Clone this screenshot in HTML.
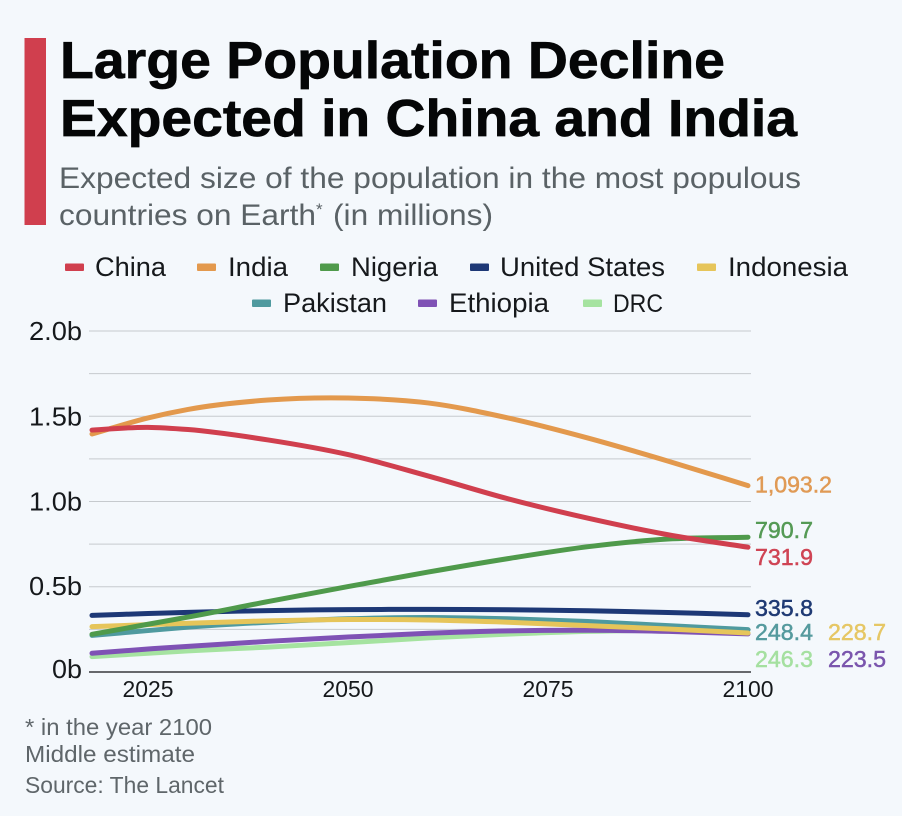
<!DOCTYPE html>
<html lang="en">
<head>
<meta charset="utf-8">
<title>Large Population Decline Expected in China and India</title>
<style>
html,body{margin:0;padding:0;background:#f4f8fc;}
svg{display:block;font-family:"Liberation Sans",sans-serif;}
.sub{font-size:30px;fill:#5a6266;}
.leg{font-size:27px;fill:#16191c;}
.foot{font-size:23px;fill:#5f666a;}
.tick{fill:#16191c;}
</style>
</head>
<body>
<svg id="chart" width="902" height="816" viewBox="0 0 902 816" xmlns="http://www.w3.org/2000/svg">
<rect x="0" y="0" width="902" height="816" fill="#f4f8fc"/>
<rect x="24.5" y="38" width="21.5" height="187" fill="#d03f4e"/>
<text x="60" y="78" font-size="52" font-weight="700" fill="#050607" stroke="#050607" stroke-width="0.7" textLength="665" lengthAdjust="spacingAndGlyphs">Large Population Decline</text>
<text x="60" y="136" font-size="52" font-weight="700" fill="#050607" stroke="#050607" stroke-width="0.7" textLength="737" lengthAdjust="spacingAndGlyphs">Expected in China and India</text>
<text class="sub" x="59" y="188" textLength="742" lengthAdjust="spacingAndGlyphs">Expected size of the population in the most populous</text>
<text class="sub" x="59" y="225" textLength="257" lengthAdjust="spacingAndGlyphs">countries on Earth</text>
<text x="316" y="215" font-size="17" fill="#5a6266">*</text>
<text class="sub" x="333" y="225" textLength="160" lengthAdjust="spacingAndGlyphs">(in millions)</text>

<g>
<g><rect x="65" y="263.5" width="19" height="7.5" rx="1" fill="#d03f4e"/><text class="leg" x="95" y="276" textLength="71" lengthAdjust="spacingAndGlyphs">China</text></g>
<g><rect x="197" y="263.5" width="19" height="7.5" rx="1" fill="#e3994d"/><text class="leg" x="228" y="276" textLength="60" lengthAdjust="spacingAndGlyphs">India</text></g>
<g><rect x="320" y="263.5" width="19" height="7.5" rx="1" fill="#4f9a4b"/><text class="leg" x="351" y="276" textLength="87" lengthAdjust="spacingAndGlyphs">Nigeria</text></g>
<g><rect x="470" y="263.5" width="19" height="7.5" rx="1" fill="#1d3876"/><text class="leg" x="500" y="276" textLength="165" lengthAdjust="spacingAndGlyphs">United States</text></g>
<g><rect x="697" y="263.5" width="19" height="7.5" rx="1" fill="#e6c55a"/><text class="leg" x="728" y="276" textLength="120" lengthAdjust="spacingAndGlyphs">Indonesia</text></g>
<g><rect x="252" y="299.5" width="19" height="7.5" rx="1" fill="#4f9a9f"/><text class="leg" x="283" y="312" textLength="104" lengthAdjust="spacingAndGlyphs">Pakistan</text></g>
<g><rect x="418" y="299.5" width="19" height="7.5" rx="1" fill="#7f52b5"/><text class="leg" x="449" y="312" textLength="100" lengthAdjust="spacingAndGlyphs">Ethiopia</text></g>
<g><rect x="583" y="299.5" width="19" height="7.5" rx="1" fill="#a5e3a0"/><text class="leg" x="613" y="312" style="font-size:25px" textLength="50" lengthAdjust="spacingAndGlyphs">DRC</text></g>
</g>

<g id="grid"></g>
<g id="lines"></g>
<g id="labels"></g>

<text class="foot" x="25" y="735" textLength="187" lengthAdjust="spacingAndGlyphs">* in the year 2100</text>
<text class="foot" x="25" y="762" textLength="170" lengthAdjust="spacingAndGlyphs">Middle estimate</text>
<text class="foot" x="25" y="793" textLength="199" lengthAdjust="spacingAndGlyphs">Source: The Lancet</text>
</svg>

<script>
const years = [2018, 2025, 2030, 2040, 2050, 2060, 2070, 2080, 2090, 2100];
const drcValues = [90, 110, 124, 146, 172, 200, 222, 238, 245, 246.3];
const ethiopiaValues = [110, 135, 150, 180, 205, 227, 241, 245, 238, 223.5];
const pakistanValues = [215, 243, 263, 292, 312, 320, 312, 296, 272, 248.4];
const indonesiaValues = [266, 278, 286, 300, 308, 305, 292, 272, 252, 228.7];
const unitedStatesValues = [332, 343, 350, 360, 366, 367, 365, 359, 349, 335.8];
const nigeriaValues = [221, 280, 322, 413, 501, 586, 665, 735, 780, 790.7];
const indiaValues = [1396, 1490, 1540, 1595, 1607, 1578, 1490, 1372, 1237, 1093.2];
const chinaValues = [1419, 1435, 1422, 1361, 1275, 1150, 1016, 902, 805, 731.9];
const endLabels = ['246.3', '223.5', '248.4', '228.7', '335.8', '790.7', '1,093.2', '731.9'];
const seriesNames = ['drc', 'ethiopia', 'pakistan', 'indonesia', 'united-states', 'nigeria', 'india', 'china'];
const seriesValues = [drcValues, ethiopiaValues, pakistanValues, indonesiaValues, unitedStatesValues, nigeriaValues, indiaValues, chinaValues];
const xTicks = [2025, 2050, 2075, 2100];
const yTicks = [0, 500, 1000, 1500, 2000];
const yTickLabels = ['0b', '0.5b', '1.0b', '1.5b', '2.0b'];
const yMinorTicks = [250, 750, 1250, 1750];

const seriesColors = ['#a5e3a0', '#7f52b5', '#4f9a9f', '#e6c55a', '#1d3876', '#4f9a4b', '#e3994d', '#d03f4e'];
const labelColors = ['#a5e0a0', '#7a55ad', '#559a9e', '#e6c765', '#1f3a74', '#559a55', '#e09a55', '#cf4454'];
const NS = 'http://www.w3.org/2000/svg';
const plotLeft = 89, plotRight = 751;
function xScale(year) { return 148 + (year - 2025) * 8; }
function yScale(value) { return 672 - value * 341 / 2000; }

function smoothPath(xs, ys) {
  const px = xs.map(xScale);
  const py = ys.map(yScale);
  const n = px.length;
  const slope = [];
  for (let i = 0; i < n; i++) {
    if (i === 0) {
      slope.push((py[1] - py[0]) / (px[1] - px[0]));
    } else if (i === n - 1) {
      slope.push((py[n - 1] - py[n - 2]) / (px[n - 1] - px[n - 2]));
    } else {
      const h0 = px[i] - px[i - 1], h1 = px[i + 1] - px[i];
      const d0 = (py[i] - py[i - 1]) / h0, d1 = (py[i + 1] - py[i]) / h1;
      slope.push((h1 * d0 + h0 * d1) / (h0 + h1));
    }
  }
  let d = 'M' + px[0].toFixed(2) + ' ' + py[0].toFixed(2);
  for (let i = 0; i < n - 1; i++) {
    const h = px[i + 1] - px[i];
    d += 'C' + (px[i] + h / 3).toFixed(2) + ' ' + (py[i] + slope[i] * h / 3).toFixed(2) + ' ' +
      (px[i + 1] - h / 3).toFixed(2) + ' ' + (py[i + 1] - slope[i + 1] * h / 3).toFixed(2) + ' ' +
      px[i + 1].toFixed(2) + ' ' + py[i + 1].toFixed(2);
  }
  return d;
}

const grid = document.getElementById('grid');
const lines = document.getElementById('lines');
const labels = document.getElementById('labels');

yMinorTicks.forEach(function (t) {
  const el = document.createElementNS(NS, 'line');
  
  
  el.setAttribute('x1', plotLeft);
  el.setAttribute('x2', plotRight);
  el.setAttribute('y1', yScale(t));
  el.setAttribute('y2', yScale(t));
  el.setAttribute('stroke', '#c6cace');
  el.setAttribute('stroke-width', '1.1');
  grid.appendChild(el);
});

const yLabelBaseline = [6, 8, 9, 9, 9];
const yLabelWidth = [30, 53, 53, 53, 53];
yTicks.forEach(function (t, i) {
  const el = document.createElementNS(NS, 'line');
  
  
  el.setAttribute('x1', plotLeft);
  el.setAttribute('x2', plotRight);
  el.setAttribute('y1', yScale(t));
  el.setAttribute('y2', yScale(t));
  el.setAttribute('stroke', t === 0 ? '#111315' : '#c6cace');
  el.setAttribute('stroke-width', t === 0 ? '1.3' : '1.1');
  grid.appendChild(el);
  const tx = document.createElementNS(NS, 'text');
  
  
  tx.setAttribute('class', 'tick');
  tx.setAttribute('x', 82 - yLabelWidth[i]);
  tx.setAttribute('y', yScale(t) + yLabelBaseline[i]);
  tx.setAttribute('font-size', '26');
  tx.setAttribute('textLength', yLabelWidth[i]);
  tx.setAttribute('lengthAdjust', 'spacingAndGlyphs');
  tx.textContent = yTickLabels[i];
  grid.appendChild(tx);
});

xTicks.forEach(function (t) {
  const tx = document.createElementNS(NS, 'text');
  
  
  tx.setAttribute('class', 'tick');
  tx.setAttribute('x', xScale(t) - 25.5);
  tx.setAttribute('y', 697);
  tx.setAttribute('font-size', '23');
  tx.setAttribute('textLength', '51');
  tx.setAttribute('lengthAdjust', 'spacingAndGlyphs');
  tx.textContent = String(t);
  grid.appendChild(tx);
});

const labelDx = [755, 828, 755, 828, 755, 755, 755, 755];
const labelDy = [37, 33, 10.4, 7, 1.5, 1, 7, 18];
seriesNames.forEach(function (name, i) {
  const values = seriesValues[i];
  const path = document.createElementNS(NS, 'path');
  
  
  path.setAttribute('d', smoothPath(years, values));
  path.setAttribute('fill', 'none');
  path.setAttribute('stroke', seriesColors[i]);
  path.setAttribute('stroke-width', '5');
  path.setAttribute('stroke-linecap', 'round');
  path.setAttribute('stroke-linejoin', 'round');
  lines.appendChild(path);
  const tx = document.createElementNS(NS, 'text');
  
  
  tx.setAttribute('x', labelDx[i]);
  tx.setAttribute('y', yScale(values[values.length - 1]) + labelDy[i]);
  tx.setAttribute('font-size', '23');
  tx.setAttribute('fill', labelColors[i]);
  tx.setAttribute('stroke', labelColors[i]);
  tx.setAttribute('stroke-width', '0.5');
  tx.setAttribute('textLength', endLabels[i].length > 5 ? '77' : '58');
  tx.setAttribute('lengthAdjust', 'spacingAndGlyphs');
  tx.textContent = endLabels[i];
  labels.appendChild(tx);
});
</script>
</body>
</html>
